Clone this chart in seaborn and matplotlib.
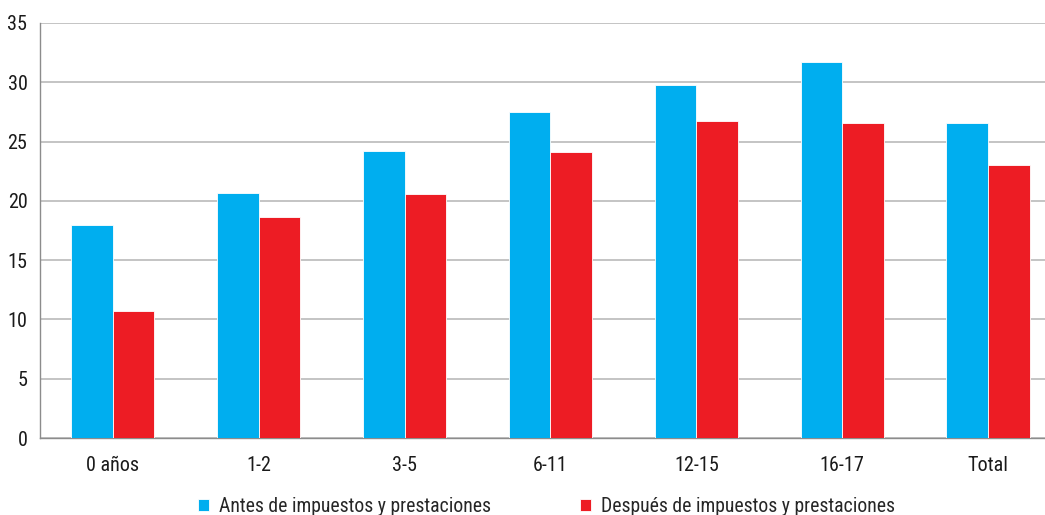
import numpy as np
import pandas as pd
import matplotlib
matplotlib.use("Agg")
import matplotlib.pyplot as plt
from matplotlib import font_manager
import seaborn as sns

categorias = ["0 años", "1-2", "3-5", "6-11", "12-15", "16-17", "Total"]
antes = [18.0, 20.7, 24.2, 27.5, 29.8, 31.7, 26.6]
despues = [10.7, 18.6, 20.6, 24.1, 26.7, 26.6, 23.0]
series = ["Antes de impuestos y prestaciones", "Después de impuestos y prestaciones"]
colores = ["#00AEEF", "#ED1C24"]
y_ticks = [0, 5, 10, 15, 20, 25, 30, 35]

df = pd.DataFrame({
    "categoria": categorias * 2,
    "valor": antes + despues,
    "serie": [series[0]] * len(categorias) + [series[1]] * len(categorias),
})

# Prefer a narrow sans face when one is installed
narrow = [f for f in font_manager.fontManager.ttflist
          if ("narrow" in f.name.lower() or "condensed" in f.name.lower()
              or "narrow" in f.fname.lower() or "condensed" in f.fname.lower())
          and f.style == "normal" and f.weight in (400, "normal", "regular")]
narrow.sort(key=lambda f: (0 if "roboto" in f.fname.lower() else
                           1 if "liberation" in f.fname.lower() else 2))

sns.set_theme(style="white")
if narrow:
    fp = font_manager.FontProperties(fname=narrow[0].fname)
    plt.rcParams["font.family"] = [fp.get_name(), "DejaVu Sans"]
    if narrow[0].stretch not in ("normal", 500):
        plt.rcParams["font.stretch"] = narrow[0].stretch
else:
    plt.rcParams["font.family"] = ["Roboto", "DejaVu Sans"]

fig = plt.figure(figsize=(10.45, 5.15), dpi=100)
ax = fig.add_axes([40 / 1045, 1 - 438 / 515, 1 - 40 / 1045, (438 - 23) / 515])

sns.barplot(data=df, x="categoria", y="valor", hue="serie", order=categorias,
            hue_order=series, palette=colores, width=0.57, saturation=1,
            edgecolor="white", linewidth=0.6, ax=ax, zorder=3)

ax.set_yticks(y_ticks)
ax.set_xticks(np.arange(-0.5, 7.0, 1.0), minor=True)
ax.set_ylim(0, 35)
ax.set_xlim(-0.5, 6.5 - 16 / 146)
ax.yaxis.grid(True, color="#C4C4C4", linewidth=1.4, zorder=0)
ax.set_axisbelow(True)
ax.set_xlabel("")
ax.set_ylabel("")

for side in ["top", "right"]:
    ax.spines[side].set_visible(False)
for side in ["left", "bottom"]:
    ax.spines[side].set_color("#8C8C8C")
    ax.spines[side].set_linewidth(1.0)

ax.tick_params(axis="x", which="major", length=0, pad=13, labelsize=14.5, labelcolor="#1A1A1A")
ax.tick_params(axis="x", which="minor", length=6, width=1.0, color="#8C8C8C", direction="out")
ax.tick_params(axis="y", which="major", length=5, width=1.0, color="#8C8C8C", direction="out",
               pad=4, labelsize=14.5, labelcolor="#1A1A1A")

handles, labels = ax.get_legend_handles_labels()
ax.legend_.remove()
fig.legend(handles, labels, loc="lower center", bbox_to_anchor=(0.523, -0.036), ncol=2,
           frameon=False, fontsize=14.2, handlelength=0.55, handleheight=0.55,
           handletextpad=0.5, columnspacing=4.5)

fig.savefig("out.png", dpi=100)
